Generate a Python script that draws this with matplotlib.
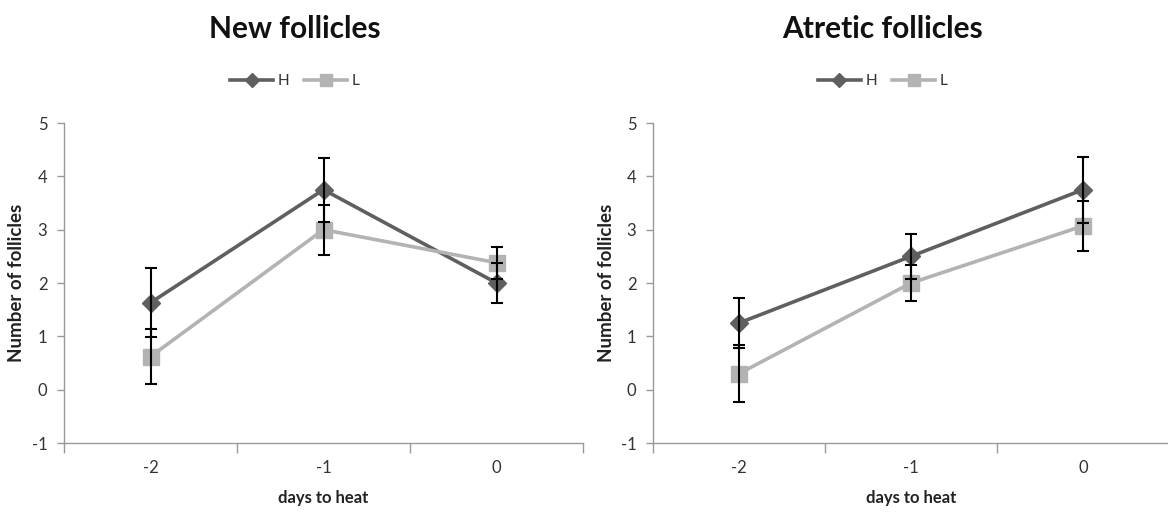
import matplotlib
matplotlib.use("Agg")
import matplotlib.pyplot as plt
from matplotlib.ticker import FixedLocator

plt.rcParams['font.family'] = ['Lato', 'DejaVu Sans']
plt.rcParams['axes.unicode_minus'] = False

days = ["-2", "-1", "0"]
series = ["H", "L"]

new_H = [1.63, 3.75, 2.00]
new_H_err = [0.65, 0.60, 0.37]
new_L = [0.62, 3.00, 2.38]
new_L_err = [0.51, 0.47, 0.30]

atr_H = [1.25, 2.50, 3.75]
atr_H_err = [0.47, 0.42, 0.62]
atr_L = [0.30, 2.00, 3.07]
atr_L_err = [0.54, 0.33, 0.47]

titles = ["New follicles", "Atretic follicles"]
yticks = [-1, 0, 1, 2, 3, 4, 5]

colors = {"H": "#5f5f5f", "L": "#b3b3b3"}
markers = {"H": "D", "L": "s"}
msizes = {"H": 9, "L": 11}

fig = plt.figure(figsize=(11.68, 5.14), dpi=100)
axes_pos = [[64/1168, 71/514, 519/1168, 320/514],
            [653/1168, 71/514, 516/1168, 320/514]]
ylabel_x = [-39/519, -38/516]

panels = [
    (new_H, new_H_err, new_L, new_L_err),
    (atr_H, atr_H_err, atr_L, atr_L_err),
]

for pos, lx, title, (hv, he, lv, le) in zip(axes_pos, ylabel_x, titles, panels):
    ax = fig.add_axes(pos)
    x = list(range(len(days)))
    for name, vals, errs in (("H", hv, he), ("L", lv, le)):
        ax.plot(x, vals, color=colors[name], lw=2.6, marker=markers[name],
                ms=msizes[name], mec=colors[name], mfc=colors[name],
                label=name, zorder=3)
        ax.errorbar(x, vals, yerr=errs, fmt='none', ecolor='black',
                    elinewidth=1.5, capsize=4, capthick=1.5, zorder=4)
    ax.set_xlim(-0.5, 2.5)
    ax.set_ylim(-1, 5)
    ax.set_yticks(yticks)
    ax.set_xticks(x)
    ax.set_xticklabels(days)
    ax.xaxis.set_minor_locator(FixedLocator([-0.5, 0.5, 1.5, 2.5]))
    ax.tick_params(axis='x', which='major', length=0, pad=12,
                   labelsize=12, labelcolor='#333333')
    ax.tick_params(axis='x', which='minor', length=7, color='#999999', width=1)
    ax.tick_params(axis='y', length=5, color='#999999', width=1,
                   labelsize=12, labelcolor='#333333', pad=7)
    for s in ('top', 'right'):
        ax.spines[s].set_visible(False)
    for s in ('left', 'bottom'):
        ax.spines[s].set_color('#999999')
        ax.spines[s].set_linewidth(1)
    ax.set_xlabel("days to heat", fontsize=12, fontweight='bold',
                  color='#222222', labelpad=10)
    ax.set_ylabel("Number of follicles", fontsize=13.5, fontweight='bold',
                  color='#222222')
    ax.yaxis.set_label_coords(lx, 0.5)
    ax.text(0.445, 1.295, title, transform=ax.transAxes, ha='center',
            va='center', fontsize=21.5, fontweight='bold', color='#111111')
    leg = ax.legend(loc='center', bbox_to_anchor=(0.445, 1.13), ncol=2,
                    frameon=False, fontsize=11, handlelength=2.8,
                    columnspacing=1.0, handletextpad=0.3, markerscale=0.75)
    for t in leg.get_texts():
        t.set_color('#333333')

fig.savefig("out.png", dpi=100)
